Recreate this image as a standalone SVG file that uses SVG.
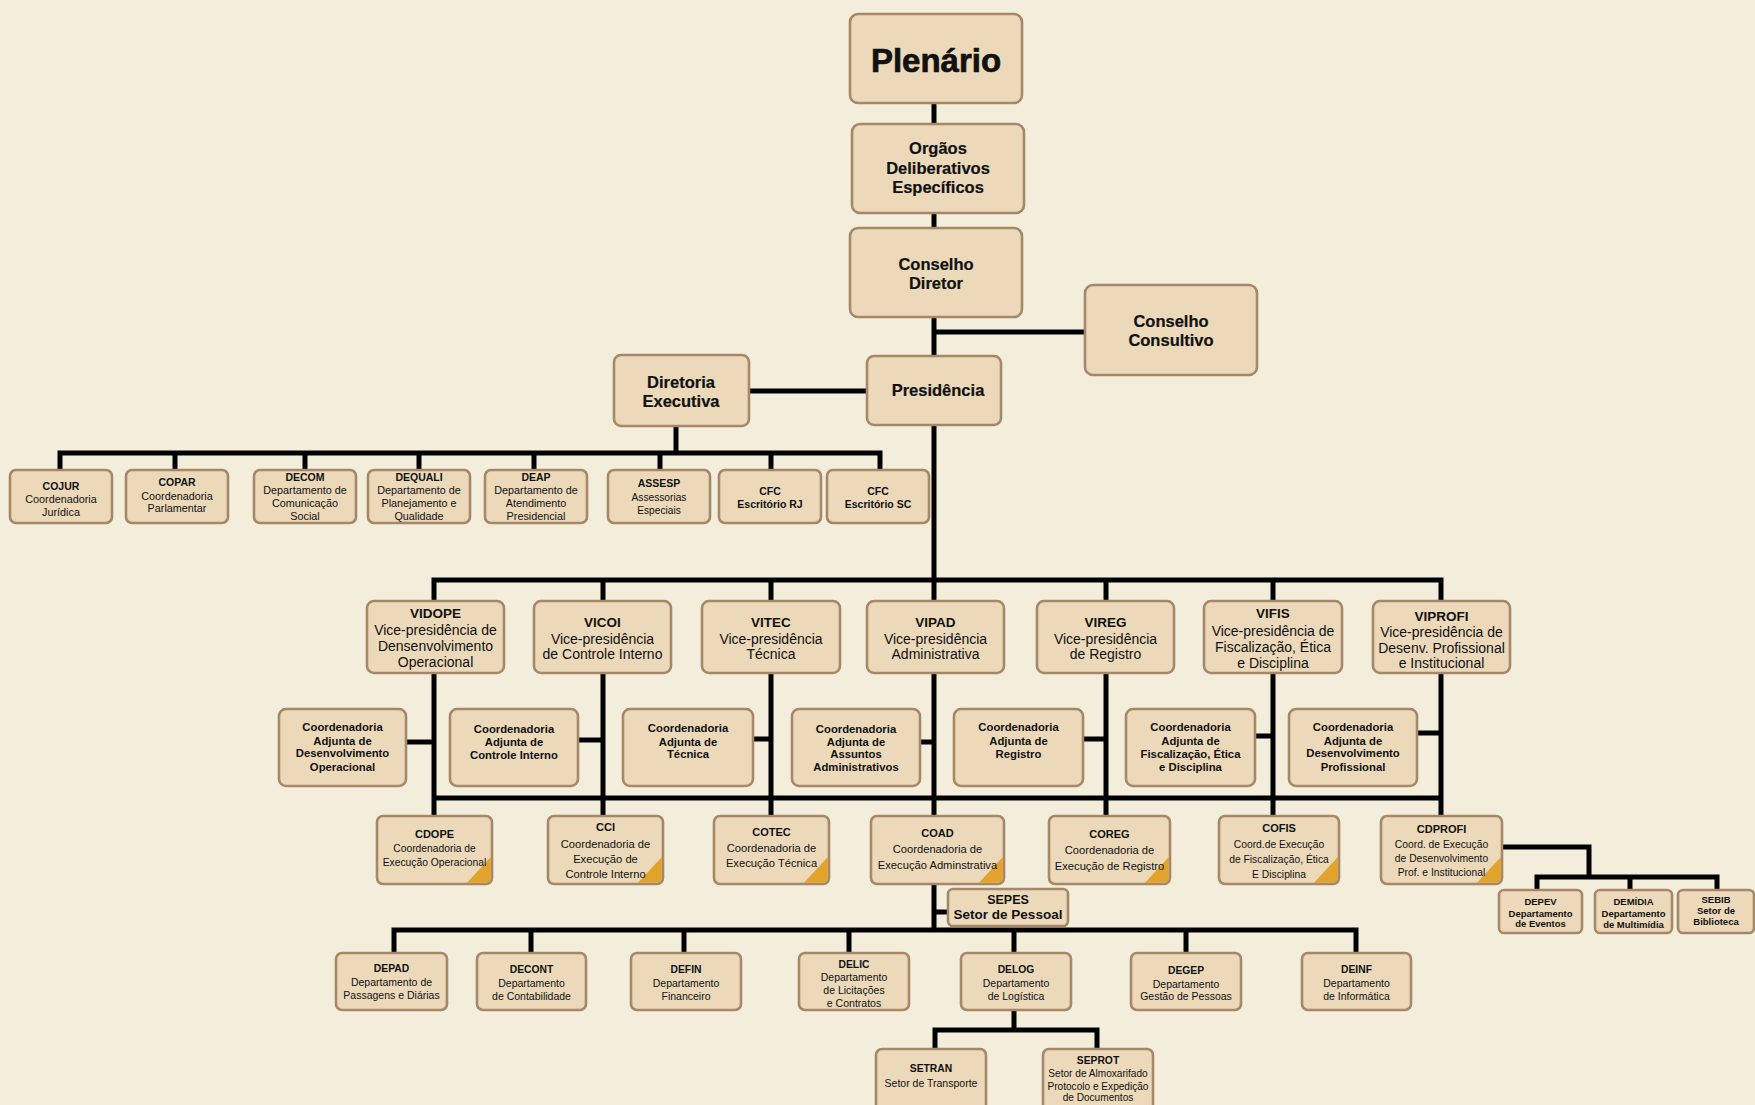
<svg xmlns="http://www.w3.org/2000/svg" width="1755" height="1105" viewBox="0 0 1755 1105">
<style>
.b{fill:#EBD9BA;stroke:#A68869;stroke-width:2.6}
.tri{fill:#E2A22E}
.ln{fill:none;stroke:#000;stroke-width:5}
text{font-family:"Liberation Sans",Arial,sans-serif;fill:#111;text-anchor:middle}
.h1{font-size:33px;font-weight:bold;stroke:#111;stroke-width:0.7}
.h2{font-size:16.5px;font-weight:bold;stroke:#111;stroke-width:0.2}
.vt{font-size:13.5px;font-weight:bold}
.vs{font-size:14px}
.ca{font-size:11.3px;font-weight:bold}
.ct{font-size:11px;font-weight:bold}
.cs{font-size:11.2px}
.cs2{font-size:10.3px}
.st{font-size:10.5px;font-weight:bold}
.ss{font-size:10.8px}
.ss2{font-size:10.2px}
.bt{font-size:10.3px;font-weight:bold}
.bs{font-size:10.5px}
.xt{font-size:9.5px;font-weight:bold}
.sp{font-size:13.5px;font-weight:bold}
</style>
<rect x="0" y="0" width="1755" height="1105" fill="#F3EEDC"/>

<g id="connectors">
<path class="ln" d="M934,103 V816"/>
<path class="ln" d="M934,332 H1085"/>
<path class="ln" d="M749,391 H867"/>
<path class="ln" d="M676,426 V453"/>
<path class="ln" d="M60,470 V453 H880 V470"/>
<path class="ln" d="M175,453 V470 M305,453 V470 M419,453 V470 M534,453 V470 M660,453 V470 M771,453 V470"/>
<path class="ln" d="M434,816 V580 H1441 V816"/>
<path class="ln" d="M603,580 V816 M771,580 V816 M1106,580 V816 M1273,580 V816"/>
<path class="ln" d="M434,798 H1441"/>
<path class="ln" d="M406,742 H434 M578,740 H603 M753,739 H771 M920,742 H934 M1083,739 H1106 M1255,736 H1273 M1417,733 H1441"/>
<path class="ln" d="M934,884 V930 M934,912 H948"/>
<path class="ln" d="M394,953 V930 H1356 V953"/>
<path class="ln" d="M531,930 V953 M684,930 V953 M849,930 V953 M1014,930 V953 M1186,930 V953"/>
<path class="ln" d="M1014,1010 V1030 M935,1049 V1030 H1097 V1049"/>
<path class="ln" d="M1502,847 H1589 V877 M1537,890 V877 H1717 V890 M1630,877 V890"/>
</g>

<g id="plenario"><rect class="b" x="850" y="14" width="172" height="89" rx="8"/><text class="h1" x="936" y="72">Plenário</text></g>
<g id="orgaos"><rect class="b" x="852" y="124" width="172" height="89" rx="8"/><text class="h2" x="938" y="154">Orgãos</text><text class="h2" x="938" y="174">Deliberativos</text><text class="h2" x="938" y="193">Específicos</text></g>
<g id="conselho-diretor"><rect class="b" x="850" y="228" width="172" height="89" rx="8"/><text class="h2" x="936" y="270">Conselho</text><text class="h2" x="936" y="289">Diretor</text></g>
<g id="conselho-consultivo"><rect class="b" x="1085" y="285" width="172" height="90" rx="8"/><text class="h2" x="1171" y="327">Conselho</text><text class="h2" x="1171" y="346">Consultivo</text></g>
<g id="presidencia"><rect class="b" x="867" y="356" width="134" height="69" rx="7"/><text class="h2" x="938" y="396">Presidência</text></g>
<g id="diretoria-executiva"><rect class="b" x="614" y="355" width="135" height="71" rx="7"/><text class="h2" x="681" y="388">Diretoria</text><text class="h2" x="681" y="407">Executiva</text></g>

<g id="cojur"><rect class="b" x="10" y="470" width="102" height="53" rx="6"/><text class="st" x="61" y="490">COJUR</text><text class="ss" x="61" y="503">Coordenadoria</text><text class="ss" x="61" y="516">Jurídica</text></g>
<g id="copar"><rect class="b" x="126" y="470" width="102" height="53" rx="6"/><text class="st" x="177" y="486">COPAR</text><text class="ss" x="177" y="500">Coordenadoria</text><text class="ss" x="177" y="512">Parlamentar</text></g>
<g id="decom"><rect class="b" x="254" y="470" width="102" height="53" rx="6"/><text class="st" x="305" y="481">DECOM</text><text class="ss" x="305" y="494">Departamento de</text><text class="ss" x="305" y="507">Comunicação</text><text class="ss" x="305" y="520">Social</text></g>
<g id="dequali"><rect class="b" x="368" y="470" width="102" height="53" rx="6"/><text class="st" x="419" y="481">DEQUALI</text><text class="ss" x="419" y="494">Departamento de</text><text class="ss" x="419" y="507">Planejamento e</text><text class="ss" x="419" y="520">Qualidade</text></g>
<g id="deap"><rect class="b" x="485" y="470" width="102" height="53" rx="6"/><text class="st" x="536" y="481">DEAP</text><text class="ss" x="536" y="494">Departamento de</text><text class="ss" x="536" y="507">Atendimento</text><text class="ss" x="536" y="520">Presidencial</text></g>
<g id="assesp"><rect class="b" x="608" y="470" width="102" height="53" rx="6"/><text class="st" x="659" y="487">ASSESP</text><text class="ss2" x="659" y="501">Assessorias</text><text class="ss2" x="659" y="514">Especiais</text></g>
<g id="cfc-rj"><rect class="b" x="719" y="470" width="102" height="53" rx="6"/><text class="st" x="770" y="495">CFC</text><text class="st" x="770" y="508">Escritório RJ</text></g>
<g id="cfc-sc"><rect class="b" x="827" y="470" width="102" height="53" rx="6"/><text class="st" x="878" y="495">CFC</text><text class="st" x="878" y="508">Escritório SC</text></g>

<g id="vidope"><rect class="b" x="367" y="601" width="137" height="72" rx="7"/><text class="vt" x="435.5" y="618">VIDOPE</text><text class="vs" x="435.5" y="635">Vice-presidência de</text><text class="vs" x="435.5" y="651">Densenvolvimento</text><text class="vs" x="435.5" y="667">Operacional</text></g>
<g id="vicoi"><rect class="b" x="534" y="601" width="137" height="72" rx="7"/><text class="vt" x="602.5" y="627">VICOI</text><text class="vs" x="602.5" y="644">Vice-presidência</text><text class="vs" x="602.5" y="659">de Controle Interno</text></g>
<g id="vitec"><rect class="b" x="702" y="601" width="138" height="72" rx="7"/><text class="vt" x="771" y="627">VITEC</text><text class="vs" x="771" y="644">Vice-presidência</text><text class="vs" x="771" y="659">Técnica</text></g>
<g id="vipad"><rect class="b" x="867" y="601" width="137" height="72" rx="7"/><text class="vt" x="935.5" y="627">VIPAD</text><text class="vs" x="935.5" y="644">Vice-presidência</text><text class="vs" x="935.5" y="659">Administrativa</text></g>
<g id="vireg"><rect class="b" x="1037" y="601" width="137" height="72" rx="7"/><text class="vt" x="1105.5" y="627">VIREG</text><text class="vs" x="1105.5" y="644">Vice-presidência</text><text class="vs" x="1105.5" y="659">de Registro</text></g>
<g id="vifis"><rect class="b" x="1204" y="601" width="138" height="72" rx="7"/><text class="vt" x="1273" y="618">VIFIS</text><text class="vs" x="1273" y="636">Vice-presidência de</text><text class="vs" x="1273" y="652">Fiscalização, Ética</text><text class="vs" x="1273" y="668">e Disciplina</text></g>
<g id="viprofi"><rect class="b" x="1373" y="601" width="137" height="72" rx="7"/><text class="vt" x="1441.5" y="621">VIPROFI</text><text class="vs" x="1441.5" y="637">Vice-presidência de</text><text class="vs" x="1441.5" y="653">Desenv. Profissional</text><text class="vs" x="1441.5" y="668">e Institucional</text></g>

<g id="ca-desenvolvimento-operacional"><rect class="b" x="279" y="709" width="127" height="77" rx="7"/><text class="ca" x="342.5" y="731">Coordenadoria</text><text class="ca" x="342.5" y="745">Adjunta de</text><text class="ca" x="342.5" y="757">Desenvolvimento</text><text class="ca" x="342.5" y="771">Operacional</text></g>
<g id="ca-controle-interno"><rect class="b" x="450" y="709" width="128" height="77" rx="7"/><text class="ca" x="514" y="733">Coordenadoria</text><text class="ca" x="514" y="746">Adjunta de</text><text class="ca" x="514" y="759">Controle Interno</text></g>
<g id="ca-tecnica"><rect class="b" x="623" y="709" width="130" height="77" rx="7"/><text class="ca" x="688" y="732">Coordenadoria</text><text class="ca" x="688" y="746">Adjunta de</text><text class="ca" x="688" y="758">Técnica</text></g>
<g id="ca-assuntos-administrativos"><rect class="b" x="792" y="709" width="128" height="77" rx="7"/><text class="ca" x="856" y="733">Coordenadoria</text><text class="ca" x="856" y="746">Adjunta de</text><text class="ca" x="856" y="758">Assuntos</text><text class="ca" x="856" y="771">Administrativos</text></g>
<g id="ca-registro"><rect class="b" x="954" y="709" width="129" height="77" rx="7"/><text class="ca" x="1018.5" y="731">Coordenadoria</text><text class="ca" x="1018.5" y="745">Adjunta de</text><text class="ca" x="1018.5" y="758">Registro</text></g>
<g id="ca-fiscalizacao"><rect class="b" x="1126" y="709" width="129" height="77" rx="7"/><text class="ca" x="1190.5" y="731">Coordenadoria</text><text class="ca" x="1190.5" y="745">Adjunta de</text><text class="ca" x="1190.5" y="758">Fiscalização, Ética</text><text class="ca" x="1190.5" y="771">e Disciplina</text></g>
<g id="ca-desenvolvimento-profissional"><rect class="b" x="1289" y="709" width="128" height="77" rx="7"/><text class="ca" x="1353" y="731">Coordenadoria</text><text class="ca" x="1353" y="745">Adjunta de</text><text class="ca" x="1353" y="757">Desenvolvimento</text><text class="ca" x="1353" y="771">Profissional</text></g>

<g id="cdope"><rect class="b" x="377" y="816" width="115" height="68" rx="6"/><path class="tri" d="M467,882.8 L490.8,857 L490.8,877 Q490.8,882.8 485,882.8 Z"/><text class="ct" x="434.5" y="838">CDOPE</text><text class="cs2" x="434.5" y="852">Coordenadoria de</text><text class="cs2" x="434.5" y="866">Execução Operacional</text></g>
<g id="cci"><rect class="b" x="548" y="816" width="115" height="68" rx="6"/><path class="tri" d="M638,882.8 L661.8,857 L661.8,877 Q661.8,882.8 656,882.8 Z"/><text class="ct" x="605.5" y="831">CCI</text><text class="cs" x="605.5" y="848">Coordenadoria de</text><text class="cs" x="605.5" y="863">Execução de</text><text class="cs" x="605.5" y="878">Controle Interno</text></g>
<g id="cotec"><rect class="b" x="714" y="816" width="115" height="68" rx="6"/><path class="tri" d="M804,882.8 L827.8,857 L827.8,877 Q827.8,882.8 822,882.8 Z"/><text class="ct" x="771.5" y="836">COTEC</text><text class="cs" x="771.5" y="852">Coordenadoria de</text><text class="cs" x="771.5" y="867">Execução Técnica</text></g>
<g id="coad"><rect class="b" x="871" y="816" width="133" height="68" rx="6"/><path class="tri" d="M979,882.8 L1002.8,857 L1002.8,877 Q1002.8,882.8 997,882.8 Z"/><text class="ct" x="937.5" y="837">COAD</text><text class="cs" x="937.5" y="853">Coordenadoria de</text><text class="cs" x="937.5" y="869">Execução Adminstrativa</text></g>
<g id="coreg"><rect class="b" x="1049" y="816" width="121" height="68" rx="6"/><path class="tri" d="M1145,882.8 L1168.8,857 L1168.8,877 Q1168.8,882.8 1163,882.8 Z"/><text class="ct" x="1109.5" y="838">COREG</text><text class="cs" x="1109.5" y="854">Coordenadoria de</text><text class="cs" x="1109.5" y="870">Execução de Registro</text></g>
<g id="cofis"><rect class="b" x="1219" y="816" width="120" height="68" rx="6"/><path class="tri" d="M1314,882.8 L1337.8,857 L1337.8,877 Q1337.8,882.8 1332,882.8 Z"/><text class="ct" x="1279" y="832">COFIS</text><text class="cs2" x="1279" y="848">Coord.de Execução</text><text class="cs2" x="1279" y="863">de Fiscalização, Ética</text><text class="cs2" x="1279" y="878">E Disciplina</text></g>
<g id="cdprofi"><rect class="b" x="1381" y="816" width="121" height="68" rx="6"/><path class="tri" d="M1477,882.8 L1500.8,857 L1500.8,877 Q1500.8,882.8 1495,882.8 Z"/><text class="ct" x="1441.5" y="833">CDPROFI</text><text class="cs2" x="1441.5" y="848">Coord. de Execução</text><text class="cs2" x="1441.5" y="862">de Desenvolvimento</text><text class="cs2" x="1441.5" y="876">Prof. e Institucional</text></g>

<g id="sepes"><rect class="b" x="948" y="889" width="120" height="37" rx="5"/><text class="ct" x="1008" y="904" style="font-size:12.5px">SEPES</text><text class="sp" x="1008" y="919">Setor de Pessoal</text></g>

<g id="depev"><rect class="b" x="1499" y="890" width="83" height="43" rx="5"/><text class="xt" x="1540.5" y="904.5">DEPEV</text><text class="xt" x="1540.5" y="916.5">Departamento</text><text class="xt" x="1540.5" y="927">de Eventos</text></g>
<g id="demidia"><rect class="b" x="1595" y="890" width="77" height="43" rx="5"/><text class="xt" x="1633.5" y="905">DEMÍDIA</text><text class="xt" x="1633.5" y="917">Departamento</text><text class="xt" x="1633.5" y="928">de Multimídia</text></g>
<g id="sebib"><rect class="b" x="1678" y="890" width="76" height="43" rx="5"/><text class="xt" x="1716" y="903">SEBIB</text><text class="xt" x="1716" y="914">Setor de</text><text class="xt" x="1716" y="925">Biblioteca</text></g>

<g id="depad"><rect class="b" x="336" y="953" width="111" height="57" rx="6"/><text class="bt" x="391.5" y="972">DEPAD</text><text class="bs" x="391.5" y="986">Departamento de</text><text class="bs" x="391.5" y="999">Passagens e Diárias</text></g>
<g id="decont"><rect class="b" x="477" y="953" width="109" height="57" rx="6"/><text class="bt" x="531.5" y="973">DECONT</text><text class="bs" x="531.5" y="987">Departamento</text><text class="bs" x="531.5" y="1000">de Contabilidade</text></g>
<g id="defin"><rect class="b" x="631" y="953" width="110" height="57" rx="6"/><text class="bt" x="686" y="973">DEFIN</text><text class="bs" x="686" y="987">Departamento</text><text class="bs" x="686" y="1000">Financeiro</text></g>
<g id="delic"><rect class="b" x="799" y="953" width="110" height="57" rx="6"/><text class="bt" x="854" y="968">DELIC</text><text class="bs" x="854" y="981">Departamento</text><text class="bs" x="854" y="994">de Licitações</text><text class="bs" x="854" y="1007">e Contratos</text></g>
<g id="delog"><rect class="b" x="961" y="953" width="110" height="57" rx="6"/><text class="bt" x="1016" y="973">DELOG</text><text class="bs" x="1016" y="987">Departamento</text><text class="bs" x="1016" y="1000">de Logística</text></g>
<g id="degep"><rect class="b" x="1131" y="953" width="110" height="57" rx="6"/><text class="bt" x="1186" y="974">DEGEP</text><text class="bs" x="1186" y="988">Departamento</text><text class="bs" x="1186" y="1000">Gestão de Pessoas</text></g>
<g id="deinf"><rect class="b" x="1302" y="953" width="109" height="57" rx="6"/><text class="bt" x="1356.5" y="973">DEINF</text><text class="bs" x="1356.5" y="987">Departamento</text><text class="bs" x="1356.5" y="1000">de Informática</text></g>

<g id="setran"><rect class="b" x="876" y="1049" width="110" height="62" rx="6"/><text class="bt" x="931" y="1072">SETRAN</text><text class="bs" x="931" y="1087">Setor de Transporte</text></g>
<g id="seprot"><rect class="b" x="1043" y="1049" width="110" height="62" rx="6"/><text class="bt" x="1098" y="1064">SEPROT</text><text class="bs" x="1098" y="1077" style="font-size:10.1px">Setor de Almoxarifado</text><text class="bs" x="1098" y="1090" style="font-size:10.1px">Protocolo e Expedição</text><text class="bs" x="1098" y="1101" style="font-size:10.1px">de Documentos</text></g>
</svg>
